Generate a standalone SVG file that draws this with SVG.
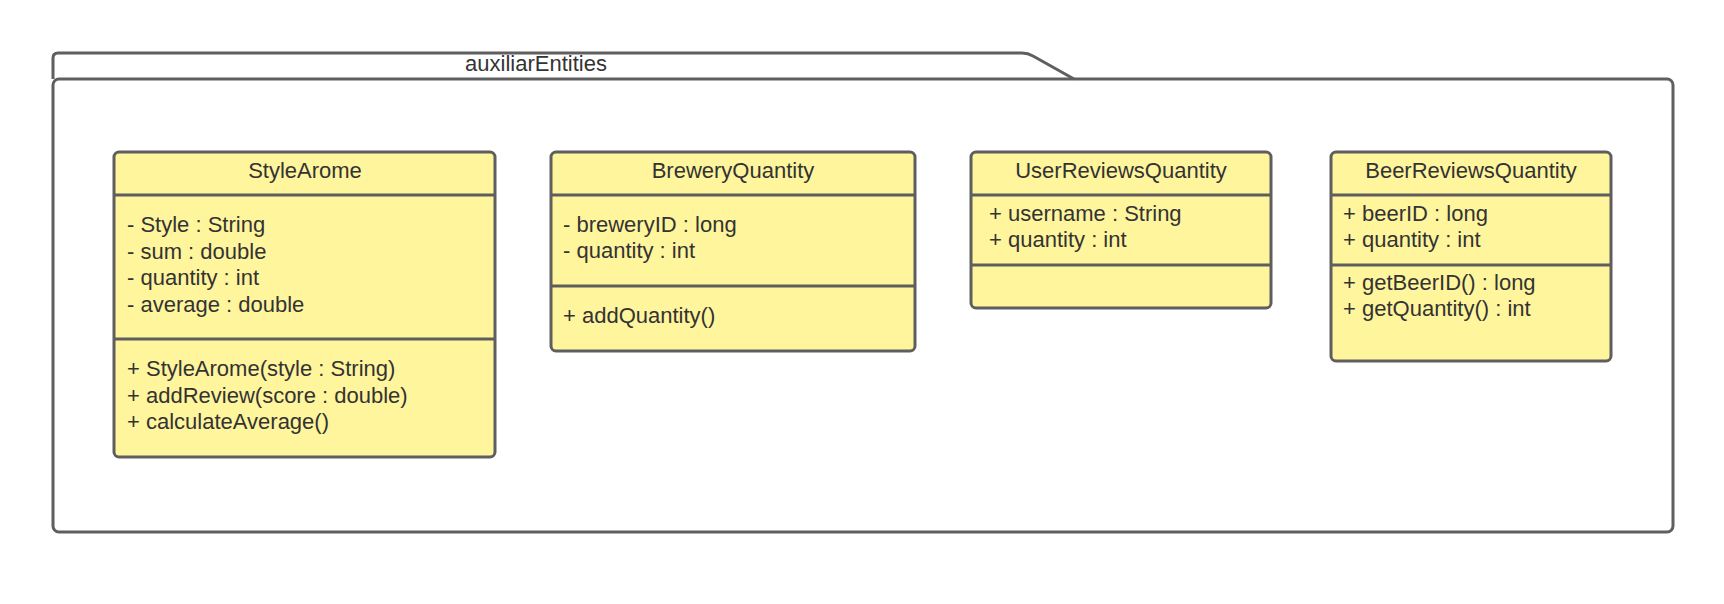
<svg xmlns="http://www.w3.org/2000/svg" width="1724" height="604" viewBox="0 0 1724 604">
<style>
.pkg{fill:none;stroke:#5f5f5f;stroke-width:3;stroke-linejoin:round}
.box{fill:#fff59d;stroke:#5e5e5e;stroke-width:3}
.div{stroke:#5e5e5e;stroke-width:3}
text{font-family:"Liberation Sans",Arial,sans-serif;fill:#333333}
.t{font-size:22px;text-anchor:middle}
.m{font-size:22px}
.pl{font-size:22px;text-anchor:middle}
</style>
<rect width="1724" height="604" fill="#ffffff"/>
<g id="package">
<rect class="pkg" x="53" y="79" width="1620" height="453" rx="6"/>
<path class="pkg" d="M53,79 V58 Q53,53 58,53 H1022 Q1028,53 1033,56 L1074,79"/>
<text class="pl" x="536" y="71">auxiliarEntities</text>
</g>
<g id="StyleArome">
<rect class="box" x="114" y="152" width="381" height="305" rx="5"/>
<line class="div" x1="114" y1="195" x2="495" y2="195"/>
<line class="div" x1="114" y1="339" x2="495" y2="339"/>
<text class="t" x="305" y="178">StyleArome</text>
<text class="m" x="127" y="232">- Style : String</text>
<text class="m" x="127" y="259">- sum : double</text>
<text class="m" x="127" y="285">- quantity : int</text>
<text class="m" x="127" y="312">- average : double</text>
<text class="m" x="127" y="376">+ StyleArome(style : String)</text>
<text class="m" x="127" y="403">+ addReview(score : double)</text>
<text class="m" x="127" y="429">+ calculateAverage()</text>
</g>
<g id="BreweryQuantity">
<rect class="box" x="551" y="152" width="364" height="199" rx="5"/>
<line class="div" x1="551" y1="195" x2="915" y2="195"/>
<line class="div" x1="551" y1="286" x2="915" y2="286"/>
<text class="t" x="733" y="178">BreweryQuantity</text>
<text class="m" x="563" y="232">- breweryID : long</text>
<text class="m" x="563" y="258">- quantity : int</text>
<text class="m" x="563" y="323">+ addQuantity()</text>
</g>
<g id="UserReviewsQuantity">
<rect class="box" x="971" y="152" width="300" height="156" rx="5"/>
<line class="div" x1="971" y1="195" x2="1271" y2="195"/>
<line class="div" x1="971" y1="265" x2="1271" y2="265"/>
<text class="t" x="1121" y="178">UserReviewsQuantity</text>
<text class="m" x="989" y="221">+ username : String</text>
<text class="m" x="989" y="247">+ quantity : int</text>
</g>
<g id="BeerReviewsQuantity">
<rect class="box" x="1331" y="152" width="280" height="209" rx="5"/>
<line class="div" x1="1331" y1="195" x2="1611" y2="195"/>
<line class="div" x1="1331" y1="265" x2="1611" y2="265"/>
<text class="t" x="1471" y="178">BeerReviewsQuantity</text>
<text class="m" x="1343" y="221">+ beerID : long</text>
<text class="m" x="1343" y="247">+ quantity : int</text>
<text class="m" x="1343" y="290">+ getBeerID() : long</text>
<text class="m" x="1343" y="316">+ getQuantity() : int</text>
</g>
<g id="connectors"></g>
</svg>
